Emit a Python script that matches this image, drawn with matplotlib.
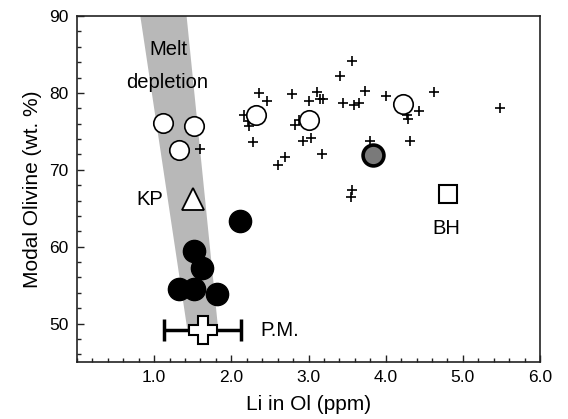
import matplotlib
matplotlib.use("Agg")
import matplotlib.pyplot as plt
from matplotlib.ticker import MultipleLocator, FormatStrFormatter

plt.rcParams['font.family'] = ['Liberation Sans', 'DejaVu Sans']

# Data
cross_x = [2.36, 2.46, 2.16, 2.21, 2.23, 2.28, 2.79, 3.01, 3.11, 3.15, 3.19,
           2.88, 2.83, 2.93, 3.03, 3.17, 2.70, 2.60, 3.57, 3.41, 3.73, 3.45,
           3.59, 3.66, 4.01, 4.63, 4.43, 4.28, 4.29, 4.32, 3.80, 5.48, 3.57,
           3.55, 1.59]
cross_y = [80.0, 79.0, 77.1, 76.3, 75.7, 73.6, 79.9, 79.0, 80.1, 79.2, 79.2,
           76.5, 75.8, 73.8, 74.1, 72.0, 71.6, 70.6, 84.1, 82.2, 80.3, 78.7,
           78.4, 78.7, 79.6, 80.1, 77.6, 77.1, 76.6, 73.7, 73.7, 78.1, 67.4,
           66.5, 72.7]

open_x = [1.12, 1.51, 1.32, 2.32, 3.01, 4.22]
open_y = [76.1, 75.7, 72.6, 77.1, 76.5, 78.6]

grey_x = [3.83]
grey_y = [71.9]

black_x = [2.11, 1.51, 1.62, 1.32, 1.51, 1.81]
black_y = [63.4, 59.4, 57.2, 54.5, 54.5, 53.9]

kp_x, kp_y = [1.50], [66.2]
bh_x, bh_y = [4.81], [66.8]
pm_x, pm_y, pm_xerr = [1.63], [49.1], [0.5]

band_x = [0.82, 1.42, 1.83, 1.43]
band_y = [90.0, 90.0, 49.2, 49.2]

fig = plt.figure(figsize=(5.68, 4.19), dpi=100)
ax = fig.add_axes([0.1356, 0.136, 0.8151, 0.8258])

ax.fill(band_x, band_y, color='#b8b8b8', lw=0, zorder=1)

ax.plot(cross_x, cross_y, ls='none', marker='+', ms=7, mew=1.2, color='black', zorder=2)
ax.plot(open_x, open_y, ls='none', marker='o', ms=14, mfc='white', mec='black', mew=1.2, zorder=3)
ax.plot(grey_x, grey_y, ls='none', marker='o', ms=15, mfc='#7a7a7a', mec='black', mew=2.6, zorder=3)
ax.plot(black_x, black_y, ls='none', marker='o', ms=16, mfc='black', mec='black', zorder=3)
ax.plot(kp_x, kp_y, ls='none', marker='^', ms=16, mfc='white', mec='black', mew=1.3, zorder=3)
ax.plot(bh_x, bh_y, ls='none', marker='s', ms=13.5, mfc='white', mec='black', mew=1.5, zorder=3)
ax.errorbar(pm_x, pm_y, xerr=pm_xerr, fmt='none', ecolor='black', elinewidth=2.5,
            capsize=8, capthick=2.5, zorder=3)
ax.plot(pm_x, pm_y, ls='none', marker='P', ms=20, mfc='white', mec='black', mew=1.5, zorder=4)

ax.text(1.19, 85.6, 'Melt', ha='center', va='center', fontsize=14.5, zorder=5)
ax.text(1.17, 81.3, 'depletion', ha='center', va='center', fontsize=14.5, zorder=5)
ax.text(1.12, 66.2, 'KP', ha='right', va='center', fontsize=14.5)
ax.text(2.37, 49.1, 'P.M.', ha='left', va='center', fontsize=14.5)
ax.text(4.79, 62.4, 'BH', ha='center', va='center', fontsize=14.5)

ax.set_xlim(0, 6)
ax.set_ylim(45, 90)
ax.set_xticks([1, 2, 3, 4, 5, 6])
ax.xaxis.set_major_formatter(FormatStrFormatter('%.1f'))
ax.xaxis.set_minor_locator(MultipleLocator(0.2))
ax.set_yticks([50, 60, 70, 80, 90])
ax.yaxis.set_minor_locator(MultipleLocator(2))
ax.tick_params(which='both', direction='in', top=False, right=False,
               labelsize=12.5, color='#222222', width=1)
ax.tick_params(which='major', length=5, pad=6)
ax.tick_params(which='minor', length=3)
for s in ax.spines.values():
    s.set_linewidth(1.2)
    s.set_color('#222222')

ax.set_xlabel('Li in Ol (ppm)', fontsize=15, labelpad=7)
ax.set_ylabel('Modal Olivine (wt. %)', fontsize=15, labelpad=5)

fig.savefig('out.png', dpi=100)
